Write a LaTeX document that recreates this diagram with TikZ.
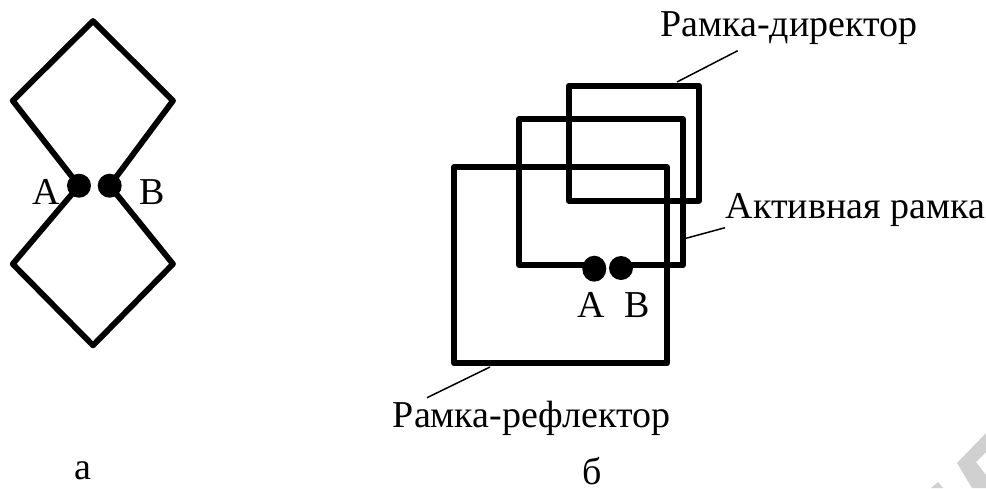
\documentclass[tikz,border=0pt]{standalone}
\usepackage{fontspec}
\usetikzlibrary{shapes.geometric}
\setmainfont{Liberation Serif}
\definecolor{wmark}{HTML}{D0D0D0}
\tikzset{
  x=1pt,y=-1pt,
  wire/.style={line width=5.8pt,line join=round},
  leader/.style={line width=1.5pt},
  dot/.style={ellipse,fill=black,inner sep=0pt,minimum width=24pt,minimum height=24pt},
  lbl/.style={inner sep=0pt,anchor=base,font=\fontsize{38}{38}\selectfont},
  lblw/.style={lbl,anchor=base west}
}
\begin{document}
\begin{tikzpicture}
\useasboundingbox (0,0) rectangle (986,488);
% watermark fragments
\fill[wmark] (957,463) -- (986,433) -- (986,452) -- (976,462) -- (986,475) -- (986,488) -- (972,488) -- cycle;
\fill[wmark] (931,488) -- (938,482) -- (943,488) -- cycle;
% left figure
\coordinate (a1t) at (79,185.7);
\coordinate (b1t) at (109.7,185.7);
\draw[wire] (a1t) -- (12.7,100.7) -- (93,21) -- (173,100.7) -- (b1t);
\draw[wire] (a1t) -- (12.7,264) -- (93,345.4) -- (173,264) -- (b1t);
\node[dot] (a1) at (a1t) {};
\node[dot] (b1) at (b1t) {};
\node[lbl] (la1) at (46.7,204) {А};
\node[lbl] (lb1) at (152,204) {В};
\node[lbl] (ca) at (82.7,479) {а};
% right figure
\draw[wire] (568.7,85.7) rectangle (699,200.7);
\draw[wire] (454,167) rectangle (667,363.3);
\coordinate (a2s) at (594.3,265.3);
\coordinate (b2s) at (621,265.3);
\draw[wire] (a2s) -- (519.3,265.3) -- (519.3,119) -- (683,119) -- (683,265.3) -- (b2s);
\node[dot,minimum height=26pt] (a2) at (594.3,268.7) {};
\node[dot] (b2) at (621,268) {};
\node[lbl] (la2) at (591,317.7) {А};
\node[lbl] (lb2) at (636.7,317.7) {В};
\node[lblw] (t1) at (660,36) {Рамка-директор};
\node[lblw] (t2) at (725.7,218) {Активная рамка};
\node[lblw] (t3) at (392.7,427.7) {Рамка-рефлектор};
\node[lbl] (cb) at (592,484) {б};
\coordinate (d1) at (737.7,50.7);
\coordinate (d2) at (677,82);
\coordinate (e1) at (725,227.7);
\coordinate (e2) at (686,238.3);
\coordinate (f1) at (490,367);
\coordinate (f2) at (427,397.7);
\draw[leader] (d1) -- (d2);
\draw[leader] (e1) -- (e2);
\draw[leader] (f1) -- (f2);
\end{tikzpicture}
\end{document}
